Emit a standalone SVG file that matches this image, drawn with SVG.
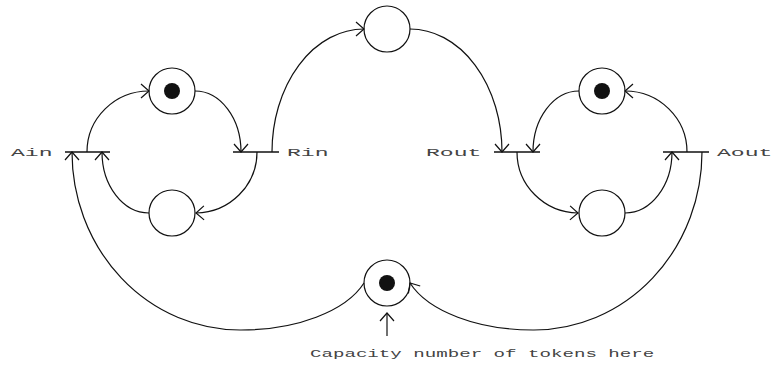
<svg xmlns="http://www.w3.org/2000/svg" width="780" height="366" viewBox="0 0 780 366">
  <style>
    .place { fill: #fff; stroke: #111; stroke-width: 1.2; }
    .token { fill: #111; }
    .bar { stroke: #111; stroke-width: 1.5; }
    .arc { fill: none; stroke: #111; stroke-width: 1.2; marker-end: url(#open); }
    .lbl { font-family: "Liberation Mono", "DejaVu Sans Mono", monospace; font-size: 11px; fill: #444; }
  </style>
  <defs>
    <marker id="open" markerUnits="userSpaceOnUse" markerWidth="20" markerHeight="20" refX="0" refY="0" orient="auto" viewBox="-10 -10 20 20" overflow="visible">
      <path d="M-8,-7 L0,0 L-8,7" fill="none" stroke="#111" stroke-width="1.2"/>
    </marker>
  </defs>

  <rect width="780" height="366" fill="#fff"/>

  <!-- places -->
  <g id="p-in-full"><circle class="place" cx="172" cy="91" r="23"/><circle class="token" cx="172" cy="91" r="8"/></g>
  <g id="p-in-empty"><circle class="place" cx="172" cy="213" r="23"/></g>
  <g id="p-mid"><circle class="place" cx="387" cy="29" r="23"/></g>
  <g id="p-out-full"><circle class="place" cx="602" cy="91" r="23"/><circle class="token" cx="602" cy="91" r="8"/></g>
  <g id="p-out-empty"><circle class="place" cx="602" cy="213" r="23"/></g>
  <g id="p-capacity"><circle class="place" cx="387" cy="283" r="23"/><circle class="token" cx="387" cy="283" r="8"/></g>

  <!-- transitions -->
  <g id="t-ain">
    <line class="bar" x1="65" y1="152" x2="110" y2="152"/>
    <text class="lbl" transform="translate(11,156) scale(2.1,1)">Ain</text>
  </g>
  <g id="t-rin">
    <line class="bar" x1="233" y1="152" x2="279" y2="152"/>
    <text class="lbl" transform="translate(287,156) scale(2.1,1)">Rin</text>
  </g>
  <g id="t-rout">
    <line class="bar" x1="494" y1="152" x2="540" y2="152"/>
    <text class="lbl" transform="translate(426,156) scale(2.1,1)">Rout</text>
  </g>
  <g id="t-aout">
    <line class="bar" x1="663" y1="152" x2="709" y2="152"/>
    <text class="lbl" transform="translate(717,156) scale(2.1,1)">Aout</text>
  </g>

  <!-- connectors -->
  <g id="connectors">
    <!-- input handshake loop -->
    <path class="arc" d="M87,152 A62,61 0 0,1 149,91"/>
    <path class="arc" d="M195,91 A46,61 0 0,1 241,152"/>
    <path class="arc" d="M257,152 A62,61 0 0,1 196,213"/>
    <path class="arc" d="M149,213 A47,61 0 0,1 102,152"/>
    <!-- output handshake loop -->
    <path class="arc" d="M517,152 A62,61 0 0,0 578,213"/>
    <path class="arc" d="M625,213 A47,61 0 0,0 672,152"/>
    <path class="arc" d="M687,152 A62,61 0 0,0 625,91"/>
    <path class="arc" d="M579,91 A46,61 0 0,0 533,152"/>
    <!-- across the top -->
    <path class="arc" d="M272,152 A92,123 0 0,1 364,29"/>
    <path class="arc" d="M410,29 A92,123 0 0,1 502,152"/>
    <!-- capacity loop along the bottom -->
    <path class="arc" d="M364,283 A130,69.5 0 0,1 240,330 A168,178 0 0,1 72,152"/>
    <path class="arc" d="M702,152 A168,178 0 0,1 534,330 A130,69.5 0 0,1 410,283"/>
    <!-- pointer to the capacity place -->
    <path class="arc" d="M387,336 L387,313"/>
  </g>

  <g id="caption">
    <text class="lbl" transform="translate(310,357) scale(1.74,1)">Capacity number of tokens here</text>
  </g>
</svg>
